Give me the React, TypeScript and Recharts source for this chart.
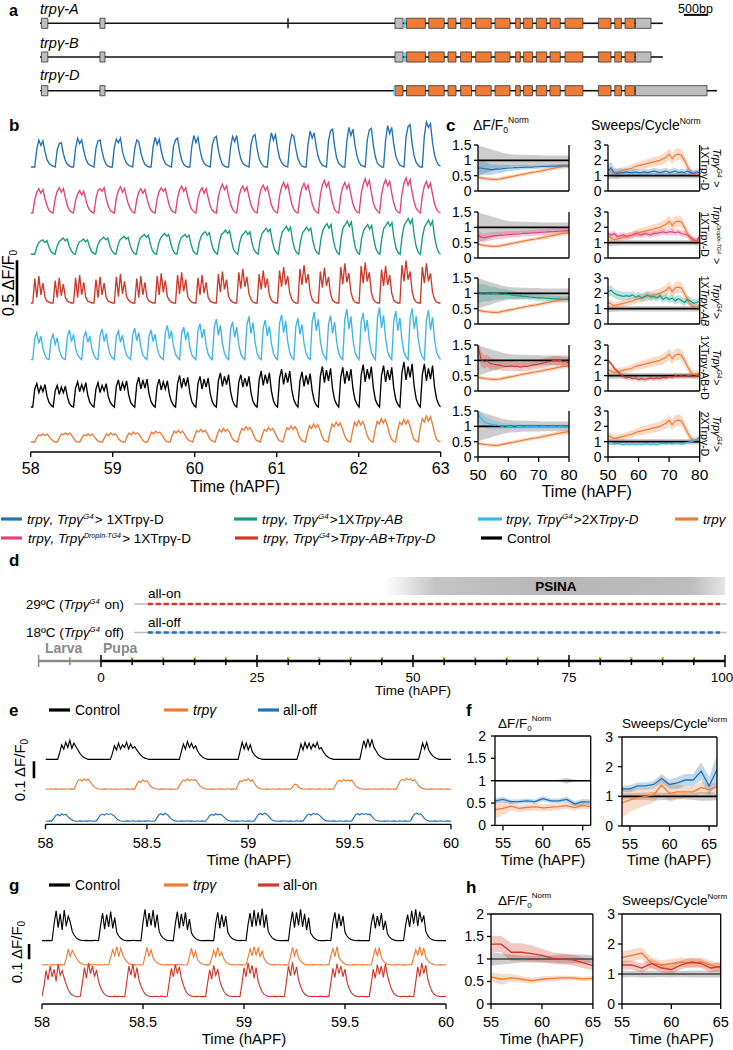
import React from 'react';
import { LineChart, Line, XAxis, YAxis, ComposedChart, Area, ReferenceLine, ReferenceArea } from 'recharts';

const FONT = '"Liberation Sans", Arial, Helvetica, sans-serif';
const COL = { blue: '#1f72b8', pink: '#e8407a', green: '#139b85', red: '#d2382a', lblue: '#3cb6ea', orange: '#f07b35', black: '#000000' };

// ---------- panel a : gene models (bp) ----------
const GENE_NAMES = ['trpγ-A', 'trpγ-B', 'trpγ-D'];
const GENE_END = [13515, 13515, 14691];
const UTR_AB = [[30, 170], [1300, 1410], [7703, 7877], [12922, 13259]];
const UTR_D = [[30, 170], [1300, 1410], [12922, 14474]];
const CDS_AB = [[7955, 8363], [8435, 8771], [8854, 9027], [9127, 9364], [9455, 9791], [9874, 10199], [10321, 10423], [10494, 10689], [10770, 10995], [11067, 11290], [11393, 11781], [12117, 12391], [12473, 12616], [12695, 12903]];
const CDS_D = [[7703, 7877], ...CDS_AB];
const START_MARK = [7920, 7920, 7690];
const SMALL_EXON_A = 5382;
const SCALE_BAR_BP = [13975, 14475];

// ---------- panel b : traces, 58-63 hAPF, units 0.01 dF/F0 ----------
const B_BLUE = [0,0,0,
20,30,24,29,17,8,4,2,1,0, 19,26,27,15,7,3,1,0,0, 21,32,26,30,18,9,4,2,1,0, 21,29,30,17,8,3,1,0,0,
22,31,27,32,17,9,4,2,1,0, 20,30,28,16,8,3,1,0,0, 22,33,25,31,18,9,4,2,1,0, 23,30,32,18,8,3,1,0,0,
23,35,27,33,19,9,4,2,1,0, 24,32,34,19,9,3,1,0,0, 22,34,28,35,19,9,4,2,1,0, 25,34,36,20,9,4,1,0,0,
25,38,30,36,21,10,5,2,1,0, 25,36,34,20,9,4,1,0,0, 26,40,32,38,22,11,5,2,1,0, 29,40,42,23,10,4,2,0,0,
29,44,35,42,24,12,5,2,1,0, 30,41,43,24,11,4,2,0,0, 30,46,37,44,25,12,6,2,1,0, 33,45,47,26,12,5,2,0,0,
35,50,44,48,27,13,6,2,1];
const B_PINK = [0,0,
15,23,27,22,26,16,8,3,1,0, 16,24,28,23,27,17,8,3,1,0, 14,21,25,20,24,15,7,3,1,0, 16,25,27,24,28,16,8,3,1,0,
17,25,29,23,27,17,9,4,1,0, 15,23,27,22,26,16,8,3,1,0, 16,24,28,24,27,17,8,3,1,0, 17,26,30,24,28,18,9,4,1,0,
16,24,28,22,27,17,8,3,1,0, 18,27,32,26,30,19,10,4,1,0, 17,26,30,24,29,18,9,4,1,0, 17,27,31,25,29,19,9,4,1,0,
19,29,34,27,32,20,10,4,1,0, 18,28,33,26,31,20,10,4,1,0, 20,31,36,29,34,22,11,4,1,0, 19,29,34,27,32,20,10,4,1,0,
21,32,38,30,36,23,11,5,2,0, 20,31,37,30,35,22,11,4,1,0, 21,33,39,31,37,23,12,5,2,0, 19,30,35,28,33,21,10,4,1,0];
const B_GREEN = [0,0,0,
8,13,15,16,13,15,8,3,1,0, 9,14,16,18,15,17,9,4,1,0, 9,14,15,17,14,16,8,3,1,0, 10,15,17,19,16,18,9,4,1,0,
10,16,18,20,17,19,10,4,1,0, 11,18,20,22,19,21,11,4,1,0, 12,18,21,23,20,22,12,5,1,0, 11,18,20,22,19,21,11,4,1,0,
13,20,23,25,21,24,13,5,2,0, 14,22,24,27,23,26,14,5,2,0, 13,21,23,26,22,25,13,5,2,0, 15,23,26,29,25,28,15,6,2,0,
16,25,28,31,26,30,16,6,2,0, 15,24,27,30,26,29,15,6,2,0, 17,27,31,34,29,33,17,7,2,0, 19,30,33,37,31,36,19,7,2,0,
17,26,30,33,28,32,17,7,2,0, 18,29,32,36,31,35,18,7,2,0, 20,32,36,40,34,39,20,8,2,0, 19,30,34,38,32,37,19,8,2,0];
const B_RED = [0,0,
27,6,30,9,22,6,2,1,0,0, 25,6,28,8,21,6,2,1,0,0, 28,6,31,9,23,6,2,1,0,0, 26,6,29,9,22,6,2,1,0,0,
29,7,32,10,24,7,3,1,0,0, 27,6,30,9,23,6,2,1,0,0, 30,9,33,12,25,7,3,1,0,0, 31,10,34,13,26,7,3,1,0,0,
28,9,31,11,23,6,2,1,0,0, 32,12,35,15,26,7,3,1,0,0, 34,16,38,18,29,10,4,1,0,0, 32,15,36,17,27,9,3,1,0,0,
36,18,40,20,30,11,4,1,0,0, 38,20,42,22,32,12,4,1,0,0, 35,17,39,19,29,10,3,1,0,0, 40,21,44,23,33,12,4,1,0,0,
41,22,45,24,34,12,4,1,0,0, 37,19,41,20,31,11,3,1,0,0, 42,24,47,26,35,13,4,1,0,0, 40,22,44,24,33,12,4,1,0,0];
const B_LBLUE = [0,0,
24,30,18,26,12,5,1,0, 22,28,17,24,11,4,1,0, 26,33,20,28,13,5,2,0, 25,31,19,26,12,5,1,0, 27,34,20,29,14,5,2,0,
26,32,19,27,13,5,2,0, 28,35,21,30,14,5,2,0, 26,33,20,28,13,5,2,0, 30,38,23,32,15,6,2,0, 29,36,22,31,14,5,2,0,
32,40,24,34,16,6,2,0, 36,45,27,38,18,7,2,0, 34,42,25,36,17,6,2,0, 38,48,29,41,19,7,2,0, 35,44,26,37,18,7,2,0,
40,50,30,43,20,8,2,0, 37,46,28,39,18,7,2,0, 42,53,32,45,21,8,3,0, 39,49,29,42,20,7,2,0, 45,56,34,48,22,8,3,0,
42,52,31,44,21,8,3,0, 46,58,35,49,23,9,3,0, 43,54,32,46,22,8,3,0, 46,57,34,48,23,9,3,0, 44,55,33,47,22,8,3,0];
const B_BLACK = [0,0,
20,26,16,23,17,25,12,5,2,0, 18,24,14,22,16,23,11,4,1,0, 21,28,17,25,18,27,13,5,2,0, 20,27,16,24,18,26,12,5,2,0,
23,30,18,27,20,29,14,5,2,0, 25,33,20,30,21,31,15,6,2,0, 23,31,19,28,20,29,14,6,2,0, 26,35,21,32,23,33,16,6,2,0,
26,34,20,31,22,32,15,6,2,0, 29,38,23,34,25,36,17,7,2,0, 27,36,22,32,23,34,16,6,2,0, 30,40,24,36,26,38,18,7,2,0,
32,42,25,38,27,40,19,8,3,0, 29,39,23,35,25,37,18,7,2,0, 34,45,27,41,29,43,20,8,3,0, 33,44,26,40,29,42,20,8,3,0,
35,47,28,42,31,45,21,8,3,0, 35,46,28,41,30,44,21,8,3,0, 38,50,30,45,33,48,23,9,3,0, 36,48,29,43,31,46,22,9,3,0];
const B_ORANGE = [0,0,0,
5,8,7,9,7,9,6,3,1,0,0, 5,9,8,10,8,10,7,4,1,0,0, 5,8,7,9,7,9,6,3,1,0,0, 5,9,7,10,8,9,7,3,1,0,0,
6,10,8,11,9,10,8,4,1,0,0, 6,11,9,12,10,11,8,4,1,0,0, 7,12,10,13,10,12,9,5,2,1,0, 7,13,11,14,11,13,10,5,2,1,0,
8,14,11,15,12,14,11,5,2,1,0, 9,15,13,17,14,16,12,6,2,1,0, 8,14,12,16,13,15,11,6,2,1,0, 9,16,14,18,14,17,13,6,2,1,0,
10,18,15,20,16,19,14,7,2,1,0, 11,20,17,22,18,21,15,8,3,1,0, 12,22,18,24,19,23,17,8,3,1,0, 13,23,20,26,21,25,18,9,3,1,0,
13,22,19,25,20,24,18,9,3,1,0, 15,26,22,29,23,28,20,10,3,1,0];

// ---------- panel c : 50-80 hAPF ----------
const C_T = [50,51,52,53,54,55,56,57,58,59,60,61,62,63,64,65,66,67,68,69,70,71,72,73,74,75,76,77,78,79,80];
const CTRL_DF_SD = [0.48,0.46,0.43,0.4,0.37,0.34,0.31,0.28,0.25,0.23,0.21,0.2,0.19,0.19,0.18,0.18,0.18,0.17,0.17,0.17,0.17,0.16,0.16,0.16,0.16,0.16,0.16,0.16,0.16,0.16,0.16];
const CTRL_SW_SD = [0.22,0.21,0.2,0.2,0.19,0.19,0.18,0.18,0.18,0.18,0.18,0.18,0.18,0.18,0.18,0.18,0.18,0.18,0.18,0.18,0.18,0.18,0.18,0.18,0.18,0.18,0.18,0.18,0.18,0.18,0.18];
const TRP_DF = [0.45,0.43,0.41,0.40,0.39,0.38,0.38,0.39,0.41,0.43,0.45,0.47,0.49,0.51,0.53,0.55,0.57,0.59,0.61,0.62,0.64,0.66,0.68,0.70,0.72,0.74,0.76,0.78,0.80,0.81,0.83];
const TRP_DF_SD = [0.06,0.06,0.06,0.06,0.06,0.06,0.06,0.06,0.06,0.06,0.06,0.06,0.06,0.06,0.06,0.06,0.06,0.06,0.06,0.06,0.06,0.07,0.07,0.07,0.07,0.07,0.07,0.08,0.08,0.08,0.08];
const TRP_SW = [1.4,1.3,1.2,1.25,1.3,1.35,1.4,1.45,1.5,1.6,1.65,1.7,1.75,1.8,1.85,1.9,1.95,2.0,2.1,2.2,2.4,2.1,2.35,2.4,2.35,2.0,1.6,1.25,1.1,1.1,1.2];
const TRP_SW_SD = [0.25,0.25,0.22,0.22,0.22,0.22,0.22,0.24,0.25,0.25,0.26,0.27,0.28,0.28,0.3,0.3,0.3,0.32,0.35,0.35,0.38,0.35,0.38,0.38,0.35,0.35,0.3,0.25,0.2,0.2,0.2];
const R1_DF = [0.75,0.75,0.73,0.72,0.70,0.70,0.72,0.71,0.73,0.74,0.75,0.75,0.76,0.76,0.77,0.77,0.78,0.78,0.78,0.79,0.79,0.80,0.80,0.80,0.81,0.81,0.81,0.82,0.82,0.82,0.82];
const R1_DF_SD = [0.25,0.24,0.22,0.2,0.18,0.16,0.15,0.14,0.13,0.12,0.11,0.1,0.09,0.09,0.08,0.08,0.08,0.07,0.07,0.07,0.07,0.06,0.06,0.06,0.06,0.06,0.06,0.06,0.06,0.06,0.06];
const R1_SW = [1.3,1.5,1.2,1.15,1.2,1.2,1.25,1.2,1.2,1.25,1.2,1.22,1.25,1.2,1.25,1.3,1.25,1.2,1.25,1.3,1.2,1.25,1.3,1.2,1.25,1.2,1.3,1.2,1.15,1.25,1.2];
const R1_SW_SD = [0.45,0.4,0.35,0.3,0.28,0.25,0.25,0.22,0.22,0.2,0.2,0.2,0.2,0.2,0.2,0.22,0.22,0.22,0.22,0.22,0.22,0.22,0.2,0.2,0.2,0.2,0.2,0.2,0.2,0.2,0.2];
const R2_DF = [0.75,0.68,0.66,0.68,0.70,0.72,0.73,0.74,0.74,0.75,0.76,0.77,0.78,0.78,0.79,0.80,0.80,0.81,0.82,0.82,0.83,0.84,0.84,0.85,0.86,0.86,0.87,0.88,0.88,0.89,0.90];
const R2_DF_SD = [0.15,0.15,0.14,0.14,0.13,0.13,0.12,0.12,0.12,0.11,0.11,0.11,0.1,0.1,0.1,0.1,0.1,0.1,0.1,0.1,0.1,0.1,0.1,0.1,0.1,0.1,0.1,0.1,0.1,0.1,0.1];
const R2_SW = [1.6,1.5,1.6,1.4,1.45,1.5,1.4,1.45,1.5,1.6,1.55,1.5,1.6,1.55,1.5,1.6,1.6,1.65,1.7,1.65,1.7,1.7,1.65,1.7,1.6,1.55,1.5,1.35,1.2,1.1,1.4];
const R2_SW_SD = [0.2,0.2,0.2,0.2,0.2,0.2,0.2,0.2,0.2,0.2,0.2,0.2,0.2,0.2,0.2,0.2,0.2,0.2,0.2,0.2,0.2,0.2,0.2,0.2,0.2,0.2,0.2,0.2,0.2,0.2,0.2];
const R3_DF = [1.0,1.0,1.02,1.0,0.98,1.0,1.0,0.98,0.97,0.98,0.97,0.95,0.93,0.92,0.92,0.90,0.90,0.88,0.87,0.86,0.85,0.85,0.84,0.83,0.83,0.82,0.82,0.81,0.80,0.80,0.80];
const R3_DF_SD = [0.32,0.3,0.28,0.26,0.24,0.22,0.2,0.18,0.17,0.16,0.15,0.14,0.13,0.12,0.12,0.11,0.1,0.1,0.1,0.1,0.1,0.1,0.1,0.1,0.1,0.1,0.1,0.1,0.1,0.1,0.1];
const R3_SW = [2.1,2.2,2.0,1.9,1.85,1.8,1.85,1.8,1.9,1.75,1.85,1.7,1.8,1.9,1.75,1.8,1.7,1.85,1.6,1.75,1.6,1.7,1.5,1.65,1.55,1.4,1.6,1.5,1.35,1.4,1.5];
const R3_SW_SD = [0.35,0.35,0.3,0.3,0.3,0.28,0.28,0.26,0.26,0.25,0.25,0.25,0.25,0.25,0.25,0.25,0.25,0.25,0.25,0.25,0.25,0.25,0.25,0.25,0.25,0.25,0.25,0.25,0.25,0.25,0.25];
const R4_DF = [1.45,1.05,0.95,0.98,0.90,0.88,0.85,0.85,0.82,0.80,0.80,0.82,0.80,0.80,0.78,0.80,0.80,0.82,0.85,0.85,0.88,0.90,0.92,0.95,0.97,1.0,0.98,1.0,0.95,0.97,0.90];
const R4_DF_SD = [0.25,0.25,0.22,0.2,0.2,0.18,0.18,0.16,0.16,0.15,0.15,0.15,0.15,0.15,0.15,0.15,0.15,0.15,0.15,0.15,0.15,0.15,0.15,0.15,0.15,0.15,0.15,0.15,0.15,0.15,0.15];
const R4_SW = [2.0,1.8,1.5,1.3,1.1,0.95,0.85,0.9,0.8,0.85,0.75,0.8,0.75,0.8,0.85,0.8,0.85,0.8,0.9,0.85,0.95,0.9,1.0,0.95,1.0,0.95,1.0,1.0,0.95,1.0,1.0];
const R4_SW_SD = [0.15,0.15,0.15,0.15,0.15,0.15,0.15,0.15,0.15,0.15,0.15,0.15,0.15,0.15,0.15,0.15,0.15,0.15,0.15,0.15,0.15,0.15,0.15,0.15,0.15,0.15,0.15,0.15,0.15,0.15,0.15];
const R5_DF = [1.4,1.25,1.15,1.1,1.08,1.05,1.05,1.02,1.0,1.02,1.0,1.0,1.02,1.0,1.0,0.98,1.0,1.0,1.0,1.0,0.98,1.0,1.0,0.98,1.0,1.0,0.98,1.0,1.0,0.98,1.0];
const R5_DF_SD = [0.22,0.22,0.2,0.18,0.16,0.15,0.14,0.12,0.11,0.1,0.1,0.09,0.08,0.08,0.08,0.07,0.07,0.07,0.07,0.06,0.06,0.06,0.06,0.06,0.06,0.06,0.06,0.06,0.06,0.06,0.06];
const R5_SW = [0.9,0.95,0.85,0.9,0.85,0.8,0.85,0.8,0.85,0.8,0.85,0.8,0.85,0.85,0.8,0.85,0.8,0.85,0.9,0.85,0.9,0.85,0.9,0.9,0.85,0.9,0.95,1.0,1.05,1.15,1.3];
const R5_SW_SD = [0.1,0.1,0.1,0.1,0.1,0.1,0.1,0.1,0.1,0.1,0.1,0.1,0.1,0.1,0.1,0.1,0.1,0.1,0.1,0.1,0.1,0.1,0.1,0.1,0.1,0.1,0.1,0.1,0.1,0.1,0.1];

// ---------- panel d : timeline (hAPF) ----------
const D_TICKS = [-10,-5,0,5,10,15,20,25,30,35,40,45,50,55,60,65,70,75,80,85,90,95,100];
const D_LABELED = [0, 25, 50, 75, 100];
const D_GUIDE = [5.3, 100.3];
const D_ALL_ON = [7.5, 99.2];
const D_ALL_OFF = [7.5, 99.2];
const D_PSINA = [45.5, 100];
const D_LARVA = [-10, 0];
const D_PUPA = [0, 100];

// ---------- panel e : traces 58-60 hAPF, units 0.001 dF/F0 ----------
const E_CTRL = [0,0,0,0,0,0,0,
40,85,60,100,70,112,65,95,75,55,35,20,10,5,
0,0,0,0,0,0,0,0,0,0,0,0,
35,80,55,95,60,85,70,100,60,90,65,75,55,40,25,14,7,3,
0,0,0,0,0,0,0,0,0,0,0,0,0,0,0,0,
45,90,60,105,70,95,65,80,50,30,17,9,4,
0,0,0,0,0,0,0,0,0,0,0,0,0,0,0,0,
50,100,60,95,55,85,45,28,15,7,3,
0,0,0,0,0,0,0,0,0,0,0,0,0,0,0,0,0,0,
40,90,55,100,65,95,60,90,70,100,60,70,45,28,16,8,4,
0,0,0,0,0,0,0,0,0,0,0,0,0,0,
55,110,70,120,75,115,70,50,30,17,9,4,
0,0,0,0,0,0,0,0,0,0,0,0,0,0,0,0,0,
45,95,60,100,55,35,20,10,5,
0,0,0,0,0,0,0];
const E_TRP = [2,0,1,3,0,2,1,0,2,1,3,0,1,2,0,
25,50,58,48,62,52,60,45,28,14,7,3,1,
0,2,1,0,3,1,0,2,0,1,3,0,2,1,0,2,1,
30,48,40,55,45,50,32,16,7,3,1,
0,2,1,3,0,1,2,0,1,2,
20,42,55,48,60,50,58,52,56,40,22,11,5,2,1,
0,2,1,0,3,1,2,0,1,3,0,2,1,0,
28,50,45,58,50,62,48,55,35,18,8,3,1,
0,2,1,0,3,1,0,2,1,0,2,1,3,0,
18,30,26,12,5,2,1,
0,2,1,3,0,1,2,0,1,3,0,2,1,0,
22,45,52,46,58,50,55,48,54,38,20,10,4,2,1,
0,2,1,0,3,1,0,2,1,3,0,2,1,0,2,1,
25,50,58,52,65,55,62,50,56,40,22,10,5,2,1,
0,2,1,3,0,1,2,0,1,2,0,1];
const E_OFF = [1,0,2,1,
15,33,40,32,44,36,42,28,16,8,3,1,
0,2,1,0,2,1,3,0,1,2,
18,35,42,36,45,40,44,38,30,16,7,3,1,
0,2,1,0,3,1,0,2,1,0,2,1,3,0,1,2,
20,38,44,37,47,40,28,14,6,2,1,
0,2,1,0,3,1,2,0,1,3,0,2,1,0,
16,34,40,35,44,38,42,36,26,13,6,2,1,
0,2,1,0,3,1,0,2,1,0,2,
22,40,46,38,48,42,30,15,6,2,1,
0,2,1,3,0,1,2,0,1,3,0,2,1,
18,36,42,35,46,40,44,36,26,12,5,2,1,
0,2,1,0,3,1,0,2,1,0,2,
20,38,44,37,46,40,45,39,42,28,14,6,2,1,
0,2,1,3,0,1,2,0,1,3,0,2,1,0,2,
24,42,47,40,45,30,15,6,2,1,
0,2,1,0,3,1,0,2,1,0];

// ---------- panel f : 54-66 hAPF ----------
const F_T = [54,55,56,57,58,59,60,61,62,63,64,65,66];
const F_CTRL_DF_SD = [0.01,0.01,0.01,0.01,0.01,0.01,0.01,0.01,0.02,0.06,0.02,0.01,0.01];
const F_CTRL_SW_SD = [0.1,0.1,0.12,0.12,0.15,0.12,0.12,0.1,0.1,0.12,0.15,0.15,0.12];
const F_TRP_DF = [0.35,0.38,0.43,0.38,0.4,0.42,0.39,0.41,0.42,0.44,0.4,0.45,0.42];
const F_TRP_DF_SD = [0.2,0.15,0.1,0.08,0.08,0.08,0.08,0.08,0.07,0.07,0.07,0.07,0.07];
const F_OFF_DF = [0.55,0.58,0.53,0.53,0.55,0.53,0.6,0.55,0.55,0.58,0.48,0.53,0.52];
const F_OFF_DF_SD = [0.06,0.06,0.05,0.05,0.05,0.05,0.06,0.05,0.05,0.06,0.06,0.06,0.06];
const F_TRP_SW = [0.78,0.88,0.95,1.0,1.05,1.38,1.1,1.15,1.15,1.15,1.3,1.22,1.32];
const F_TRP_SW_SD = [0.5,0.4,0.35,0.3,0.25,0.3,0.3,0.25,0.2,0.2,0.2,0.2,0.15];
const F_OFF_SW = [1.25,1.25,1.35,1.35,1.4,1.6,1.4,1.45,1.55,1.55,1.85,1.35,1.9];
const F_OFF_SW_SD = [0.1,0.12,0.12,0.12,0.12,0.15,0.15,0.2,0.2,0.2,0.3,0.3,0.5];

// ---------- panel g : traces 58-60 hAPF, units 0.001 dF/F0 ----------
const G_CTRL = [0,1,0,2,0,1,
110,195,85,175,70,200,95,160,120,60,35,18,8,3,
1,0,2,0,1,0,2,1,0,
100,180,75,170,90,190,80,150,55,30,15,6,2,
0,1,0,2,1,0,1,0,
120,205,90,180,100,200,85,170,60,32,16,7,2,
0,1,0,
110,190,80,175,95,185,70,140,50,28,14,6,2,
0,1,0,2,0,1,0,
115,185,80,170,90,160,55,30,15,7,3,1,
0,2,1,0,
105,180,90,200,95,185,100,210,85,170,60,35,18,8,3,1,
0,1,0,2,0,
110,190,85,185,100,205,90,175,70,150,50,28,14,6,2,
0,1,0,2,1,0,
120,185,80,175,95,160,55,30,15,7,3,1,
0,2,0,1,0,1,0,
110,175,80,160,95,180,70,130,45,25,12,5,2,
0,1,0,1,
100,170,90,195,110,205,95,190,120,165,60,32,16,7,3,1,
0,1,0,1,0];
const G_TRP = [2,0,3,1,0,2,1,3,0,2,1,0,
40,105,55,95,70,45,25,12,6,2,1,
0,2,1,3,0,2,1,0,3,1,2,
50,100,60,120,55,110,65,40,22,10,4,1,
2,0,3,1,0,
60,115,55,100,45,28,14,6,2,1,
0,2,1,3,0,1,2,0,3,1,0,2,
55,110,50,90,35,18,8,
3,1,2,0,
45,95,55,115,60,85,40,22,10,4,2,1,
0,3,1,2,0,1,
50,105,60,120,65,110,55,90,40,20,9,3,1,
2,0,3,1,0,2,1,0,
55,115,60,105,45,25,12,5,2,1,
0,2,1,3,0,2,1,0,3,1,
60,110,55,120,50,28,14,6,2,1,
0,2,1,3,0,1,2,0,3,1,0,
55,105,60,115,45,26,12,5,2,1,
0,2,1,3,0,2,1,0,3,1,
50,100,65,120,60,110,50,30,15,7,3,1,0,
2,1,0,2];
const G_ON = [2,
70,170,110,200,130,180,100,215,140,170,120,80,45,22,10,4,
1,0,2,
90,190,120,220,150,200,130,175,100,60,32,15,6,2,
0,1,3,0,2,1,0,1,
100,200,140,215,120,190,110,70,38,18,8,3,1,
0,2,1,0,3,1,0,2,
95,185,130,210,150,195,120,75,40,20,9,3,1,
0,2,1,0,2,0,
90,175,115,205,140,180,105,65,35,17,7,3,1,
0,2,1,0,
85,190,130,220,150,205,120,190,100,60,32,15,6,2,
0,1,3,0,2,1,0,1,
95,200,135,225,140,195,110,68,36,17,8,3,1,
0,2,1,0,3,1,0,2,0,
90,185,125,215,150,200,130,180,95,55,28,13,5,2,
0,1,2,0,1,0,
85,180,120,210,145,200,125,215,140,90,50,25,11,4,1,
0,2,1,0,3,1,0,
95,195,130,220,150,205,115,70,36,17,7,3,1,
0,2,1];

// ---------- panel h : 55-65 hAPF ----------
const H_T = [55,56,57,58,59,60,61,62,63,64,65];
const H_CTRL_DF_SD = [0.15,0.12,0.1,0.08,0.08,0.08,0.08,0.1,0.1,0.1,0.08];
const H_CTRL_SW_SD = [0.12,0.1,0.12,0.12,0.1,0.12,0.1,0.12,0.12,0.12,0.12];
const H_TRP_DF = [0.6,0.55,0.58,0.55,0.52,0.55,0.57,0.58,0.58,0.56,0.57];
const H_TRP_DF_SD = [0.1,0.12,0.08,0.07,0.07,0.06,0.06,0.05,0.05,0.05,0.05];
const H_ON_DF = [1.33,1.33,1.15,1.15,1.12,1.08,1.02,1.0,0.98,0.92,0.85];
const H_ON_DF_SD = [0.18,0.18,0.2,0.2,0.18,0.15,0.13,0.12,0.12,0.12,0.1];
const H_TRP_SW = [1.55,1.62,1.7,1.35,1.3,1.35,1.4,1.35,1.4,1.3,1.2];
const H_TRP_SW_SD = [0.2,0.2,0.2,0.2,0.15,0.15,0.15,0.15,0.15,0.15,0.15];
const H_ON_SW = [1.3,1.3,1.2,1.35,1.2,1.15,1.3,1.4,1.35,1.2,1.25];
const H_ON_SW_SD = [0.15,0.15,0.15,0.15,0.15,0.15,0.15,0.15,0.15,0.15,0.15];

// ================= helpers =================
function tracePts(vals: number[], t0: number, t1: number, offset: number) {
  const n = vals.length;
  return vals.map((v, i) => ({ t: t0 + (i * (t1 - t0)) / (n - 1), v: v + offset }));
}

function bandTable(ts: number[], ctrlSd: number[], trp: number[], trpSd: number[], res: number[], resSd: number[]) {
  return ts.map((t, i) => ({
    t,
    cb: [1 - ctrlSd[i], 1 + ctrlSd[i]],
    ob: [trp[i] - trpSd[i], trp[i] + trpSd[i]],
    o: trp[i],
    rb: [res[i] - resSd[i], res[i] + resSd[i]],
    r: res[i],
  }));
}

const tickStyle = (fs: number) => ({ fontSize: fs, fill: '#000', fontFamily: FONT });

function TracePanel({ plot, t0, t1, ticks, fs, tickMargin, yMax, traces, bar, lw, mr }: any) {
  const mt = 4, xh = 40;
  return (
    <div style={{ position: 'absolute', left: 0, top: plot.y - mt }}>
      <LineChart width={plot.x + plot.w + mr} height={mt + plot.h + xh} margin={{ top: mt, right: mr, left: plot.x, bottom: 0 }}>
        <XAxis type="number" dataKey="t" domain={[t0, t1]} ticks={ticks} interval={0} allowDataOverflow height={xh}
          stroke="#000" strokeWidth={1.3} tickSize={5} tickMargin={tickMargin} tick={tickStyle(fs)} />
        <YAxis type="number" domain={[0, yMax]} allowDataOverflow hide width={0} />
        {traces.map((tr: any, i: number) => (
          <Line key={i} data={tracePts(tr.vals, t0, t1, tr.offset)} dataKey="v" type="linear" stroke={tr.color}
            strokeWidth={lw} dot={false} activeDot={false} isAnimationActive={false} />
        ))}
        <ReferenceLine segment={[{ x: bar.x, y: bar.y0 }, { x: bar.x, y: bar.y1 }]} stroke="#000" strokeWidth={2.6} ifOverflow="visible" />
      </LineChart>
    </div>
  );
}

function BandPlot({ plot, data, xDomain, xTicks, yDomain, yTicks, color, showX, topLine, fs, xfs, tickMargin, yw, yTickMargin, ctrlColor, lw, mr = 12 }: any) {
  const mt = 10, xh = showX ? 34 : 8;
  return (
    <div style={{ position: 'absolute', left: plot.x - yw, top: plot.y - mt }}>
      <ComposedChart width={yw + plot.w + mr} height={mt + plot.h + xh} data={data} margin={{ top: mt, right: mr, left: 0, bottom: 0 }}>
        <XAxis type="number" dataKey="t" domain={xDomain} ticks={xTicks} interval={0} allowDataOverflow height={xh}
          stroke="#000" strokeWidth={1.3} tickSize={5} tickMargin={tickMargin} tick={showX ? tickStyle(xfs) : false} />
        <YAxis type="number" domain={yDomain} ticks={yTicks} interval={0} allowDataOverflow width={yw}
          stroke="#000" strokeWidth={1.3} tickSize={4} tickMargin={yTickMargin} tick={tickStyle(fs)} />
        <Area dataKey="cb" type="linear" stroke="none" fill="#9c9c9c" fillOpacity={0.5} isAnimationActive={false} dot={false} activeDot={false} />
        <Area dataKey="ob" type="linear" stroke="none" fill={COL.orange} fillOpacity={0.28} isAnimationActive={false} dot={false} activeDot={false} />
        <Area dataKey="rb" type="linear" stroke="none" fill={color} fillOpacity={0.28} isAnimationActive={false} dot={false} activeDot={false} />
        <ReferenceLine y={1} stroke={ctrlColor} strokeWidth={1.6} />
        <Line dataKey="o" type="linear" stroke={COL.orange} strokeWidth={lw} dot={false} activeDot={false} isAnimationActive={false} />
        <Line dataKey="r" type="linear" stroke={color} strokeWidth={lw} dot={false} activeDot={false} isAnimationActive={false} />
        <ReferenceLine x={xDomain[1]} stroke="#000" strokeWidth={1.3} />
        {topLine && <ReferenceLine y={yDomain[1]} stroke="#000" strokeWidth={1.3} />}
      </ComposedChart>
    </div>
  );
}

function GenePanel() {
  const genes = [
    { utr: UTR_AB, cds: CDS_AB },
    { utr: UTR_AB, cds: CDS_AB },
    { utr: UTR_D, cds: CDS_D },
  ];
  const H = 0.15;
  const els: any[] = [];
  genes.forEach((g, r) => {
    const boxes = [...g.utr, ...g.cds].sort((a, b) => a[0] - b[0]);
    let prev = 0;
    boxes.forEach((b) => {
      if (b[0] > prev) els.push(<ReferenceLine key={`i${r}-${b[0]}`} segment={[{ x: prev, y: r }, { x: b[0], y: r }]} stroke="#111" strokeWidth={1.6} ifOverflow="visible" />);
      prev = Math.max(prev, b[1]);
    });
    els.push(<ReferenceLine key={`e${r}`} segment={[{ x: prev, y: r }, { x: GENE_END[r], y: r }]} stroke="#111" strokeWidth={1.6} ifOverflow="visible" />);
    g.utr.forEach((b) => els.push(<ReferenceArea key={`u${r}-${b[0]}`} x1={b[0]} x2={b[1]} y1={r - H} y2={r + H} fill="#bdbdbd" fillOpacity={1} stroke="#333" strokeWidth={0.8} ifOverflow="visible" />));
    g.cds.forEach((b) => els.push(<ReferenceArea key={`c${r}-${b[0]}`} x1={b[0]} x2={b[1]} y1={r - H} y2={r + H} fill={COL.orange} fillOpacity={1} stroke="#333" strokeWidth={0.8} ifOverflow="visible" />));
    els.push(<ReferenceLine key={`s${r}`} segment={[{ x: START_MARK[r], y: r - H }, { x: START_MARK[r], y: r + H }]} stroke="#4fc3f7" strokeWidth={1.6} ifOverflow="visible" />);
  });
  els.push(<ReferenceLine key="tick" segment={[{ x: SMALL_EXON_A, y: -H }, { x: SMALL_EXON_A, y: H }]} stroke="#222" strokeWidth={1.6} ifOverflow="visible" />);
  els.push(<ReferenceLine key="scale" segment={[{ x: SCALE_BAR_BP[0], y: -0.25 }, { x: SCALE_BAR_BP[1], y: -0.25 }]} stroke="#000" strokeWidth={2} ifOverflow="visible" />);
  return (
    <div style={{ position: 'absolute', left: 0, top: 0 }}>
      <ComposedChart width={733} height={105} margin={{ top: 0, right: 0, left: 0, bottom: 0 }} data={GENE_NAMES.map((n, i) => ({ x: 0, r: i }))}>
        <XAxis type="number" dataKey="x" domain={[-868, 15038]} hide allowDataOverflow />
        <YAxis type="number" domain={[-0.691, 2.424]} reversed hide allowDataOverflow width={0} />
        {els}
      </ComposedChart>
    </div>
  );
}

const TimelineTick = (props: any) => {
  const { x, y, payload } = props;
  const v = payload.value;
  const major = D_LABELED.includes(v) || v === -10;
  const gray = v < 0;
  const len = major ? 6 : 4;
  return (
    <g>
      <line x1={x} x2={x} y1={y - len} y2={y + len} stroke={gray ? '#8a8a8a' : '#000'} strokeWidth={1.5} />
      {!major && <line x1={x} x2={x} y1={y - len} y2={y - len + 2} stroke="#e8c200" strokeWidth={1.5} />}
      {D_LABELED.includes(v) && <text x={v === 100 ? x - 3 : x} y={y + 20.5} textAnchor="middle" fontSize={13.5} fontFamily={FONT} fill="#000">{v}</text>}
    </g>
  );
};

function TimelinePanel() {
  const plot = { x: 38.6, y: 571, w: 686.4, h: 90 };
  const mt = 8, xh = 34;
  const ROW_ON = 57, ROW_OFF = 28.5;
  return (
    <div style={{ position: 'absolute', left: 0, top: plot.y - mt }}>
      <ComposedChart width={733} height={mt + plot.h + xh} margin={{ top: mt, right: 733 - plot.x - plot.w, left: plot.x, bottom: 0 }} data={[{ t: 0 }]}>
        <XAxis type="number" dataKey="t" domain={[-10, 100]} ticks={D_TICKS} interval={0} allowDataOverflow height={xh}
          axisLine={false} tickLine={false} tickSize={0} tickMargin={0} tick={<TimelineTick />} />
        <YAxis type="number" domain={[0, 90]} hide width={0} allowDataOverflow />
        <ReferenceArea x1={D_PSINA[0]} x2={D_PSINA[1]} y1={66} y2={84} fill="url(#psinaGrad)" fillOpacity={1} stroke="none" ifOverflow="visible" />
        <ReferenceLine segment={[{ x: D_GUIDE[0], y: ROW_ON }, { x: D_GUIDE[1], y: ROW_ON }]} stroke="#bdbdbd" strokeWidth={1.3} ifOverflow="visible" />
        <ReferenceLine segment={[{ x: D_GUIDE[0], y: ROW_OFF }, { x: D_GUIDE[1], y: ROW_OFF }]} stroke="#bdbdbd" strokeWidth={1.3} ifOverflow="visible" />
        <ReferenceLine segment={[{ x: D_ALL_ON[0], y: ROW_ON }, { x: D_ALL_ON[1], y: ROW_ON }]} stroke={COL.red} strokeWidth={2.4} strokeDasharray="5 3" ifOverflow="visible" />
        <ReferenceLine segment={[{ x: D_ALL_OFF[0], y: ROW_OFF }, { x: D_ALL_OFF[1], y: ROW_OFF }]} stroke={COL.blue} strokeWidth={2.4} strokeDasharray="5 3" ifOverflow="visible" />
        <ReferenceLine segment={[{ x: D_LARVA[0], y: 0 }, { x: D_LARVA[1], y: 0 }]} stroke="#8a8a8a" strokeWidth={2.6} ifOverflow="visible" />
        <ReferenceLine segment={[{ x: D_PUPA[0], y: 0 }, { x: D_PUPA[1], y: 0 }]} stroke="#000" strokeWidth={2.6} ifOverflow="visible" />
      </ComposedChart>
    </div>
  );
}

function Sup({ t, fs = 8, up = 5, italic }: any) {
  return (
    <>
      <tspan fontSize={fs} dy={-up} fontStyle={italic ? 'italic' : 'normal'}>{t}</tspan>
      <tspan dy={up}>{'\u200a'}</tspan>
    </>
  );
}

function LegendLine({ x1, x2, y, color }: any) {
  return <line x1={x1} x2={x2} y1={y} y2={y} stroke={color} strokeWidth={3.2} />;
}

function Overlay() {
  const it = { fontStyle: 'italic' as const };
  const cRowCenters = [168, 234.5, 301, 367.5, 434];
  const L1 = 712.5, L2 = 700.5;
  return (
    <svg width={733} height={1050} style={{ position: 'absolute', left: 0, top: 0, pointerEvents: 'none' }} fontFamily={FONT}>
      {/* panel letters */}
      <g fontSize={17} fontWeight="bold">
        <text x={9} y={16} fontSize={16}>a</text>
        <text x={9} y={131}>b</text>
        <text x={446} y={131}>c</text>
        <text x={9} y={566}>d</text>
        <text x={9} y={716}>e</text>
        <text x={466} y={716}>f</text>
        <text x={9} y={891}>g</text>
        <text x={466} y={893}>h</text>
      </g>
      {/* a */}
      <g fontSize={14.5} {...it}>
        <text x={40} y={14}>trpγ-A</text>
        <text x={40} y={47.5}>trpγ-B</text>
        <text x={40} y={79.5}>trpγ-D</text>
      </g>
      <text x={695.5} y={12.5} fontSize={12.5} textAnchor="middle">500bp</text>

      {/* b */}
      <text transform="translate(13.5,283) rotate(-90)" fontSize={16} textAnchor="middle">0.5 ΔF/F<tspan fontSize={10} dy={3}>0</tspan></text>
      <text x={235} y={491.6} fontSize={16} textAnchor="middle">Time (hAPF)</text>

      {/* c headers */}
      <text x={473} y={130} fontSize={14}>ΔF/F<tspan fontSize={8.5} dy={3}>0</tspan><tspan fontSize={8.5} dy={-10}>Norm</tspan></text>
      <text x={591} y={130} fontSize={14}>Sweeps/Cycle<tspan fontSize={8.5} dy={-6}>Norm</tspan></text>
      <text x={586.7} y={497.3} fontSize={16} textAnchor="middle">Time (hAPF)</text>
      {/* c row labels (rotated) */}
      <g fontSize={10.5}>
        <text transform={`translate(${L1},${cRowCenters[0]}) rotate(90)`} textAnchor="middle"><tspan {...it}>Trpγ</tspan><Sup t="G4" fs={6.5} up={4} italic /> &gt;</text>
        <text transform={`translate(${L2},${cRowCenters[0]}) rotate(90)`} textAnchor="middle">1XTrpγ-D</text>
        <text transform={`translate(${L1},${cRowCenters[1]}) rotate(90)`} textAnchor="middle"><tspan {...it}>Trpγ</tspan><Sup t="DropIn-TG4" fs={5.5} up={4} italic /> &gt;</text>
        <text transform={`translate(${L2},${cRowCenters[1]}) rotate(90)`} textAnchor="middle">1XTrpγ-D</text>
        <text transform={`translate(${L1},${cRowCenters[2]}) rotate(90)`} textAnchor="middle"><tspan {...it}>Trpγ</tspan><Sup t="G4" fs={6.5} up={4} italic />&gt;</text>
        <text transform={`translate(${L2},${cRowCenters[2]}) rotate(90)`} textAnchor="middle">1X<tspan {...it}>Trpγ-AB</tspan></text>
        <text transform={`translate(${L1},${cRowCenters[3]}) rotate(90)`} textAnchor="middle"><tspan {...it}>Trpγ</tspan><Sup t="G4" fs={6.5} up={4} italic />&gt;</text>
        <text transform={`translate(${L2},${cRowCenters[3]}) rotate(90)`} textAnchor="middle">1XTrpγ-AB+D</text>
        <text transform={`translate(${L1},${cRowCenters[4]}) rotate(90)`} textAnchor="middle"><tspan {...it}>Trpγ</tspan><Sup t="G4" fs={6.5} up={4} italic />&gt;</text>
        <text transform={`translate(${L2},${cRowCenters[4]}) rotate(90)`} textAnchor="middle">2XTrpγ-D</text>
      </g>

      {/* b/c legend */}
      <g fontSize={13.5}>
        <LegendLine x1={1} x2={22} y={519} color={COL.blue} />
        <text x={27} y={523.7}><tspan {...it}>trpγ, Trpγ</tspan><Sup t="G4" fs={8} italic />&gt; 1XTrpγ-D</text>
        <LegendLine x1={234} x2={257} y={519} color={COL.green} />
        <text x={262} y={523.7}><tspan {...it}>trpγ, Trpγ</tspan><Sup t="G4" fs={8} italic />&gt;1X<tspan {...it}>Trpγ-AB</tspan></text>
        <LegendLine x1={478} x2={502} y={519} color={COL.lblue} />
        <text x={506} y={523.7}><tspan {...it}>trpγ, Trpγ</tspan><Sup t="G4" fs={8} italic />&gt;2X<tspan {...it}>Trpγ-D</tspan></text>
        <LegendLine x1={675} x2={698} y={519} color={COL.orange} />
        <text x={703} y={523.7} {...it}>trpγ</text>

        <LegendLine x1={1} x2={22} y={538} color={COL.pink} />
        <text x={28} y={542.7}><tspan {...it}>trpγ, Trpγ</tspan><Sup t="DropIn-TG4" fs={7} italic />&gt; 1XTrpγ-D</text>
        <LegendLine x1={235} x2={258} y={538} color={COL.red} />
        <text x={263} y={542.7}><tspan {...it}>trpγ, Trpγ</tspan><Sup t="G4" fs={8} italic />&gt;<tspan {...it}>Trpγ-AB+Trpγ-D</tspan></text>
        <LegendLine x1={481} x2={502} y={538} color="#000" />
        <text x={507} y={542.7}>Control</text>
      </g>

      {/* d */}
      <text x={556} y={590.5} fontSize={13.5} fontWeight="bold" textAnchor="middle">PSINA</text>
      <g fontSize={13.5}>
        <text x={148} y={597.5}>all-on</text>
        <text x={148} y={627}>all-off</text>
        <text x={124} y={608.7} textAnchor="end">29ºC (<tspan {...it}>Trpγ</tspan><Sup t="G4" fs={7.5} italic /> on)</text>
        <text x={124} y={637.3} textAnchor="end">18ºC (<tspan {...it}>Trpγ</tspan><Sup t="G4" fs={7.5} italic /> off)</text>
        <text x={413} y={695} textAnchor="middle">Time (hAPF)</text>
      </g>
      <g fontSize={14} fontWeight="bold" fill="#8a8a8a">
        <text x={45} y={652.7}>Larva</text>
        <text x={103} y={652.7}>Pupa</text>
      </g>

      {/* e legend */}
      <g fontSize={14}>
        <LegendLine x1={49} x2={70} y={710} color="#000" />
        <text x={75} y={715}>Control</text>
        <LegendLine x1={164} x2={188} y={710} color={COL.orange} />
        <text x={193} y={715} {...it}>trpγ</text>
        <LegendLine x1={258} x2={279} y={710} color={COL.blue} />
        <text x={283} y={715}>all-off</text>
      </g>
      <text transform="translate(24.5,770) rotate(-90)" fontSize={15} textAnchor="middle">0.1 ΔF/F<tspan fontSize={10} dy={3}>0</tspan></text>
      <text x={249} y={865} fontSize={15} textAnchor="middle">Time (hAPF)</text>
      {/* f */}
      <text x={498} y={728} fontSize={13.5}>ΔF/F<tspan fontSize={8} dy={3}>0</tspan><tspan fontSize={8} dy={-10}>Norm</tspan></text>
      <text x={622} y={728} fontSize={13.5}>Sweeps/Cycle<tspan fontSize={8} dy={-6}>Norm</tspan></text>
      <text x={543} y={865} fontSize={15} textAnchor="middle">Time (hAPF)</text>
      <text x={669} y={865} fontSize={15} textAnchor="middle">Time (hAPF)</text>

      {/* g legend */}
      <g fontSize={14}>
        <LegendLine x1={49} x2={70} y={885} color="#000" />
        <text x={75} y={890}>Control</text>
        <LegendLine x1={164} x2={188} y={885} color={COL.orange} />
        <text x={193} y={890} {...it}>trpγ</text>
        <LegendLine x1={258} x2={279} y={885} color={COL.red} />
        <text x={283} y={890}>all-on</text>
      </g>
      <text transform="translate(21.5,952) rotate(-90)" fontSize={15} textAnchor="middle">0.1 ΔF/F<tspan fontSize={10} dy={3}>0</tspan></text>
      <text x={244} y={1044} fontSize={15} textAnchor="middle">Time (hAPF)</text>
      {/* h */}
      <text x={498} y={905} fontSize={13.5}>ΔF/F<tspan fontSize={8} dy={3}>0</tspan><tspan fontSize={8} dy={-10}>Norm</tspan></text>
      <text x={622} y={905} fontSize={13.5}>Sweeps/Cycle<tspan fontSize={8} dy={-6}>Norm</tspan></text>
      <text x={541.5} y={1044} fontSize={15} textAnchor="middle">Time (hAPF)</text>
      <text x={671.4} y={1044} fontSize={15} textAnchor="middle">Time (hAPF)</text>
    </svg>
  );
}

const C_ROWS = [
  { color: COL.blue, df: R1_DF, dfSd: R1_DF_SD, sw: R1_SW, swSd: R1_SW_SD },
  { color: COL.pink, df: R2_DF, dfSd: R2_DF_SD, sw: R2_SW, swSd: R2_SW_SD },
  { color: COL.green, df: R3_DF, dfSd: R3_DF_SD, sw: R3_SW, swSd: R3_SW_SD },
  { color: COL.red, df: R4_DF, dfSd: R4_DF_SD, sw: R4_SW, swSd: R4_SW_SD },
  { color: COL.lblue, df: R5_DF, dfSd: R5_DF_SD, sw: R5_SW, swSd: R5_SW_SD },
];
const C_ROW_TOPS = [145, 211.5, 278, 344.5, 411];

export default function App() {
  const bTraces = [
    { vals: B_BLUE, color: COL.blue, offset: 316.7 },
    { vals: B_PINK, color: COL.pink, offset: 265.6 },
    { vals: B_GREEN, color: COL.green, offset: 219.7 },
    { vals: B_RED, color: COL.red, offset: 165.6 },
    { vals: B_LBLUE, color: COL.lblue, offset: 102.7 },
    { vals: B_BLACK, color: '#000', offset: 50 },
    { vals: B_ORANGE, color: COL.orange, offset: 11.1 },
  ];
  const eTraces = [
    { vals: E_CTRL, color: '#000', offset: 382 },
    { vals: E_TRP, color: COL.orange, offset: 206 },
    { vals: E_OFF, color: COL.blue, offset: 18 },
  ];
  const gTraces = [
    { vals: G_CTRL, color: '#000', offset: 414 },
    { vals: G_TRP, color: COL.orange, offset: 255 },
    { vals: G_ON, color: COL.red, offset: 48 },
  ];
  return (
    <div style={{ position: 'relative', width: 733, height: 1050, background: '#fff', overflow: 'hidden', fontFamily: FONT }}>
      <style>{'body{margin:0;}'}</style>
      <svg width={0} height={0} style={{ position: 'absolute' }}>
        <defs>
          <linearGradient id="psinaGrad" x1="0" x2="1" y1="0" y2="0">
            <stop offset="0%" stopColor="#ffffff" />
            <stop offset="15%" stopColor="#c4c4c4" />
            <stop offset="50%" stopColor="#b6b6b6" />
            <stop offset="90%" stopColor="#bdbdbd" />
            <stop offset="100%" stopColor="#e4e4e4" />
          </linearGradient>
        </defs>
      </svg>

      <GenePanel />

      <TracePanel plot={{ x: 30.7, y: 118.7, w: 410, h: 333 }} t0={58} t1={63} ticks={[58, 59, 60, 61, 62, 63]} fs={16}
        tickMargin={5.7} yMax={370} traces={bTraces} bar={{ x: 57.833, y0: 163, y1: 213 }} lw={1.35} mr={9} />

      {C_ROWS.map((row, i) => (
        <React.Fragment key={i}>
          <BandPlot plot={{ x: 478.3, y: C_ROW_TOPS[i], w: 91, h: 46 }} data={bandTable(C_T, CTRL_DF_SD, TRP_DF, TRP_DF_SD, row.df, row.dfSd)}
            xDomain={[50, 80]} xTicks={[50, 60, 70, 80]} yDomain={[0, 1.5]} yTicks={[0, 0.5, 1, 1.5]} color={row.color}
            showX={i === 4} topLine={false} fs={14} xfs={15.5} tickMargin={7} yw={28} yTickMargin={2.5} ctrlColor="#000" lw={1.2} mr={11} />
          <BandPlot plot={{ x: 608.3, y: C_ROW_TOPS[i], w: 91.7, h: 46 }} data={bandTable(C_T, CTRL_SW_SD, TRP_SW, TRP_SW_SD, row.sw, row.swSd)}
            xDomain={[50, 80]} xTicks={[50, 60, 70, 80]} yDomain={[0, 3]} yTicks={[0, 1, 2, 3]} color={row.color}
            showX={i === 4} topLine={false} fs={14} xfs={15.5} tickMargin={7} yw={26} yTickMargin={2.5} ctrlColor="#000" lw={1.2} mr={11} />
        </React.Fragment>
      ))}

      <TimelinePanel />

      <TracePanel plot={{ x: 45.5, y: 735, w: 405.5, h: 89.3 }} t0={58} t1={60} ticks={[58, 58.5, 59, 59.5, 60]} fs={14.5}
        tickMargin={8.5} yMax={525} traces={eTraces} bar={{ x: 57.943, y0: 270.6, y1: 370.6 }} lw={1.15} mr={10} />

      <BandPlot plot={{ x: 495, y: 736.3, w: 95.7, h: 89.4 }} data={bandTable(F_T, F_CTRL_DF_SD, F_TRP_DF, F_TRP_DF_SD, F_OFF_DF, F_OFF_DF_SD)}
        xDomain={[54, 66]} xTicks={[55, 60, 65]} yDomain={[0, 2]} yTicks={[0, 0.5, 1, 1.5, 2]} color={COL.blue}
        showX topLine fs={14} xfs={14.5} tickMargin={7.5} yw={32} yTickMargin={5} ctrlColor="#000" lw={1.3} mr={10} />
      <BandPlot plot={{ x: 621.7, y: 736.7, w: 95, h: 89 }} data={bandTable(F_T, F_CTRL_SW_SD, F_TRP_SW, F_TRP_SW_SD, F_OFF_SW, F_OFF_SW_SD)}
        xDomain={[54, 66]} xTicks={[55, 60, 65]} yDomain={[0, 3]} yTicks={[0, 1, 2, 3]} color={COL.blue}
        showX topLine fs={14} xfs={14.5} tickMargin={7.5} yw={24} yTickMargin={5} ctrlColor="#000" lw={1.3} mr={12} />

      <TracePanel plot={{ x: 42, y: 897, w: 404, h: 107 }} t0={58} t1={60} ticks={[58, 58.5, 59, 59.5, 60]} fs={14.5}
        tickMargin={8} yMax={699} traces={gTraces} bar={{ x: 57.936, y0: 292, y1: 392 }} lw={1.15} mr={10} />

      <BandPlot plot={{ x: 490.6, y: 914, w: 101.9, h: 90 }} data={bandTable(H_T, H_CTRL_DF_SD, H_TRP_DF, H_TRP_DF_SD, H_ON_DF, H_ON_DF_SD)}
        xDomain={[55, 65]} xTicks={[55, 60, 65]} yDomain={[0, 2]} yTicks={[0, 0.5, 1, 1.5, 2]} color={COL.red}
        showX topLine fs={14} xfs={14.5} tickMargin={7.5} yw={32} yTickMargin={3} ctrlColor="#444" lw={1.3} mr={10} />
      <BandPlot plot={{ x: 622, y: 914, w: 98.7, h: 90 }} data={bandTable(H_T, H_CTRL_SW_SD, H_TRP_SW, H_TRP_SW_SD, H_ON_SW, H_ON_SW_SD)}
        xDomain={[55, 65]} xTicks={[55, 60, 65]} yDomain={[0, 3]} yTicks={[0, 1, 2, 3]} color={COL.red}
        showX topLine fs={14} xfs={14.5} tickMargin={7.5} yw={24} yTickMargin={3} ctrlColor="#444" lw={1.3} mr={11} />

      <Overlay />
    </div>
  );
}
